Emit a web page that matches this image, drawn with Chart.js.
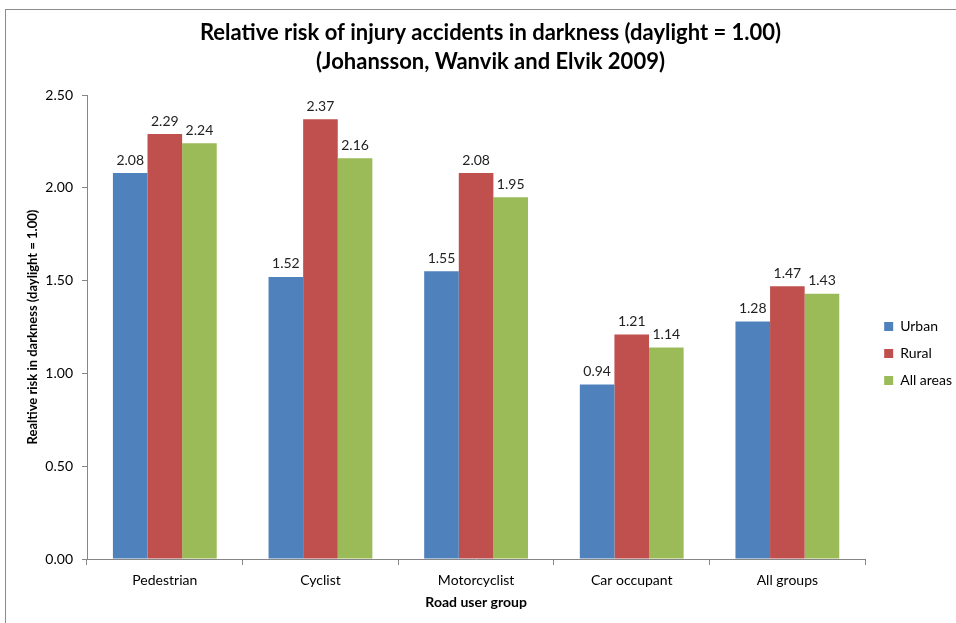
<!DOCTYPE html>
<html>
<head>
<meta charset="utf-8">
<script src="https://cdn.jsdelivr.net/npm/chart.js@4"></script>
<style>
  html, body { margin: 0; padding: 0; background: #fff; }
  #wrap { position: relative; width: 956px; height: 623px; overflow: hidden; }
  #frame { position: absolute; left: 5px; top: 9px; width: 1000px; height: 700px; border: 1px solid #8c8c8c; }
  #chart { position: absolute; left: 0; top: 0; }
</style>
</head>
<body>
<div id="wrap">
  <div id="frame"></div>
  <canvas id="chart" width="956" height="623"></canvas>
</div>
<script>
// values
const categories = ['Pedestrian', 'Cyclist', 'Motorcyclist', 'Car occupant', 'All groups'];
const seriesNames = ['Urban', 'Rural', 'All areas'];
const urban = [2.08, 1.52, 1.55, 0.94, 1.28];
const rural = [2.29, 2.37, 2.08, 1.21, 1.47];
const allAreas = [2.24, 2.16, 1.95, 1.14, 1.43];
const yMin = 0, yMax = 2.5, yStep = 0.5;

const colors = ['#4F81BD', '#C0504D', '#9BBB59'];
const fontFamily = 'Lato, "Noto Sans", sans-serif';
const axisGray = '#868686';

// draws the value above each bar
const barValues = {
    id: 'barValues',
    afterDatasetsDraw(chart) {
        const ctx = chart.ctx;
        ctx.save();
        ctx.font = '14px ' + fontFamily;
        ctx.fillStyle = '#222';
        ctx.textAlign = 'center';
        ctx.textBaseline = 'bottom';
        chart.data.datasets.forEach((ds, i) => {
            const meta = chart.getDatasetMeta(i);
            meta.data.forEach((bar, j) => {
                ctx.fillText(ds.data[j].toFixed(2), bar.x, bar.y - 6);
            });
        });
        ctx.restore();
    }
};

// excel puts the legend a bit lower than the plot centre
const legendShift = {
    id: 'legendShift',
    afterLayout(chart) {
        const lg = chart.legend;
        lg.top += 42;
        lg.bottom += 42;
        lg.left += 6;
        lg.right += 6;
    }
};

const series = [urban, rural, allAreas];

new Chart(document.getElementById('chart'), {
    type: 'bar',
    data: {
        labels: categories,
        datasets: series.map((data, i) => ({
            label: seriesNames[i],
            data: data,
            backgroundColor: colors[i],
            borderWidth: 0,
            categoryPercentage: 0.667,
            barPercentage: 1.0
        }))
    },
    plugins: [barValues, legendShift],
    options: {
        responsive: false,
        animation: false,
        layout: { padding: { left: 25, right: 0, top: 0, bottom: 0 } },
        plugins: {
            title: {
                display: true,
                text: ['Relative risk of injury accidents in darkness (daylight = 1.00)',
                       '(Johansson, Wanvik and Elvik 2009)'],
                color: '#000',
                font: { family: fontFamily, size: 22, weight: 'bold', lineHeight: 1.32 },
                padding: { top: 18, bottom: 19 }
            },
            legend: {
                position: 'right',
                labels: {
                    boxWidth: 9,
                    boxHeight: 9,
                    padding: 13,
                    color: '#000',
                    font: { family: fontFamily, size: 14 }
                }
            },
            tooltip: { enabled: false }
        },
        scales: {
            x: {
                grid: { offset: true, drawOnChartArea: false, tickLength: 6, color: axisGray },
                border: { color: axisGray },
                ticks: { color: '#000', padding: 7, font: { family: fontFamily, size: 14 } },
                title: {
                    display: true,
                    text: 'Road user group',
                    color: '#000',
                    font: { family: fontFamily, size: 14, weight: 'bold' },
                    padding: { top: 0, bottom: 12 }
                },
                afterFit(scale) { scale.height = 64; }
            },
            y: {
                min: yMin,
                max: yMax,
                grid: { drawOnChartArea: false, tickLength: 5, color: axisGray },
                border: { color: axisGray },
                ticks: {
                    stepSize: yStep,
                    color: '#000',
                    padding: 9,
                    font: { family: fontFamily, size: 14 },
                    callback: v => Number(v).toFixed(2)
                },
                title: {
                    display: true,
                    text: 'Realtive risk in darkness (daylight = 1.00)',
                    color: '#000',
                    font: { family: fontFamily, size: 13, weight: 'bold' },
                    padding: { top: 0, bottom: 6 }
                },
                afterFit(scale) { scale.width = 62; }
            }
        }
    }
});
</script>
</body>
</html>
